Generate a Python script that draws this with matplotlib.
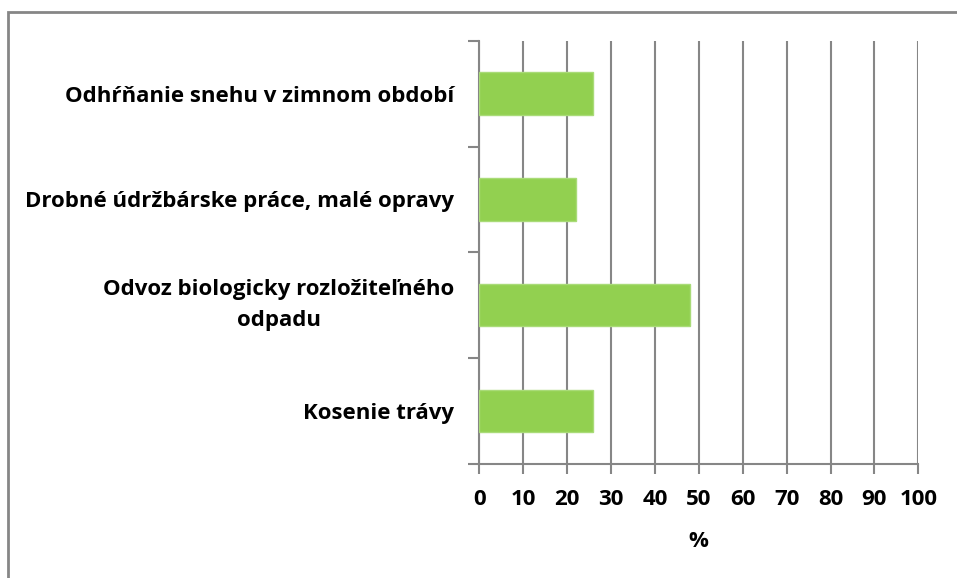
import matplotlib.pyplot as plt
from matplotlib.patches import Rectangle

# data
categories = ["Kosenie trávy",
              "Odvoz biologicky rozložiteľného\nodpadu",
              "Drobné údržbárske práce, malé opravy",
              "Odhŕňanie snehu v zimnom období"]
values = [26, 48, 22, 26]
xticks = [0, 10, 20, 30, 40, 50, 60, 70, 80, 90, 100]

plt.rcParams['font.family'] = ['Open Sans', 'DejaVu Sans']
plt.rcParams['font.weight'] = 'bold'

fig = plt.figure(figsize=(9.57, 5.78), dpi=100)
ax = fig.add_axes([0.5008, 0.1972, 0.4588, 0.7324])

grey = "#868686"
y = range(len(categories))
ax.barh(y, values, height=0.4, color="#92D050", edgecolor="#A9DB78", linewidth=1, zorder=3)

ax.set_xlim(0, 100)
ax.set_ylim(-0.5, len(categories) - 0.5)
ax.set_xticks(xticks)
ax.set_xticklabels([str(t) for t in xticks], fontsize=16, fontweight="bold")
ax.set_yticks(list(y))
ax.set_yticklabels(categories, fontsize=16, fontweight="bold", multialignment="center",
                   linespacing=1.65)
ax.get_yticklabels()[1].set_va("center")
ax.set_yticks([-0.5, 0.5, 1.5, 2.5, 3.5], minor=True)
ax.tick_params(axis="y", which="major", length=0, pad=18)
ax.tick_params(axis="y", which="minor", length=8, color=grey, width=1.5)
ax.tick_params(axis="x", length=7, color=grey, width=1.5, pad=11)
ax.grid(axis="x", color=grey, linewidth=1.5, zorder=0)
ax.set_axisbelow(True)

for s in ["top", "right"]:
    ax.spines[s].set_visible(False)
for s in ["left", "bottom"]:
    ax.spines[s].set_color(grey)
    ax.spines[s].set_linewidth(1.5)

ax.set_xlabel("%", fontsize=16, fontweight="bold", labelpad=15)

# outer chart border
fig.patches.append(Rectangle((8 / 957, -0.1), 1.2, 1 - 12 / 578 + 0.1, transform=fig.transFigure,
                             fill=False, edgecolor=grey, linewidth=2))

fig.savefig("out.png", dpi=100)
